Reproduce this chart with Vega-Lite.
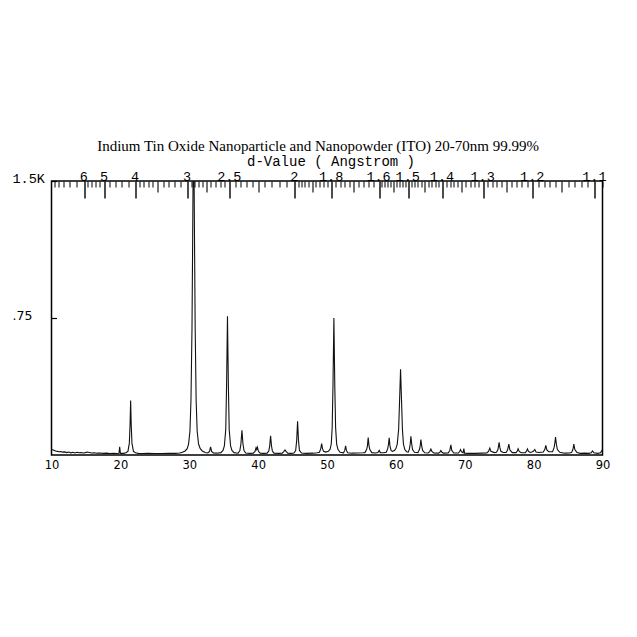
{
  "$schema": "https://vega.github.io/schema/vega-lite/v6.json",
  "width": 551,
  "height": 274,
  "autosize": {"type": "none"},
  "padding": {"left": 51.5, "top": 181, "right": 34.5, "bottom": 182},
  "background": "white",
  "title": {
    "text": "Indium Tin Oxide Nanoparticle and Nanopowder (ITO)  20-70nm  99.99%",
    "font": "Liberation Serif",
    "fontSize": 15,
    "fontWeight": "normal",
    "color": "#000",
    "anchor": "middle",
    "dx": -9,
    "offset": 0
  },
  "config": {
    "view": {"stroke": "#000", "strokeWidth": 1.5},
    "axis": {"labelColor": "#000", "tickColor": "#000", "grid": false}
  },
  "resolve": {"scale": {"x": "independent"}, "axis": {"x": "independent"}},
  "layer": [
    {
      "data": {"values": [
        {"two_theta": 10.0, "intensity": 0.032},
        {"two_theta": 10.15, "intensity": 0.029},
        {"two_theta": 10.35, "intensity": 0.026},
        {"two_theta": 10.6, "intensity": 0.022},
        {"two_theta": 10.85, "intensity": 0.02},
        {"two_theta": 11.1, "intensity": 0.018},
        {"two_theta": 11.35, "intensity": 0.019},
        {"two_theta": 11.6, "intensity": 0.016},
        {"two_theta": 11.9, "intensity": 0.017},
        {"two_theta": 12.2, "intensity": 0.013},
        {"two_theta": 12.5, "intensity": 0.016},
        {"two_theta": 12.8, "intensity": 0.012},
        {"two_theta": 13.1, "intensity": 0.015},
        {"two_theta": 13.4, "intensity": 0.011},
        {"two_theta": 13.7, "intensity": 0.015},
        {"two_theta": 14.0, "intensity": 0.012},
        {"two_theta": 14.3, "intensity": 0.014},
        {"two_theta": 14.6, "intensity": 0.011},
        {"two_theta": 14.9, "intensity": 0.013},
        {"two_theta": 15.2, "intensity": 0.016},
        {"two_theta": 15.5, "intensity": 0.014},
        {"two_theta": 15.8, "intensity": 0.011},
        {"two_theta": 16.2, "intensity": 0.012},
        {"two_theta": 16.6, "intensity": 0.01},
        {"two_theta": 17.0, "intensity": 0.011},
        {"two_theta": 17.5, "intensity": 0.009},
        {"two_theta": 18.0, "intensity": 0.01},
        {"two_theta": 18.5, "intensity": 0.008},
        {"two_theta": 19.0, "intensity": 0.009},
        {"two_theta": 19.5, "intensity": 0.008},
        {"two_theta": 19.8, "intensity": 0.01},
        {"two_theta": 19.9, "intensity": 0.045},
        {"two_theta": 20.0, "intensity": 0.009},
        {"two_theta": 20.5, "intensity": 0.009},
        {"two_theta": 20.8, "intensity": 0.012},
        {"two_theta": 21.1, "intensity": 0.02},
        {"two_theta": 21.3, "intensity": 0.065},
        {"two_theta": 21.4, "intensity": 0.16},
        {"two_theta": 21.49, "intensity": 0.298},
        {"two_theta": 21.58, "intensity": 0.16},
        {"two_theta": 21.68, "intensity": 0.065},
        {"two_theta": 21.9, "intensity": 0.02},
        {"two_theta": 22.2, "intensity": 0.012},
        {"two_theta": 22.6, "intensity": 0.009},
        {"two_theta": 23.2, "intensity": 0.008},
        {"two_theta": 24.0, "intensity": 0.009},
        {"two_theta": 25.0, "intensity": 0.008},
        {"two_theta": 26.0, "intensity": 0.008},
        {"two_theta": 27.0, "intensity": 0.009},
        {"two_theta": 28.0, "intensity": 0.009},
        {"two_theta": 28.6, "intensity": 0.011},
        {"two_theta": 29.0, "intensity": 0.015},
        {"two_theta": 29.4, "intensity": 0.022},
        {"two_theta": 29.7, "intensity": 0.035},
        {"two_theta": 29.9, "intensity": 0.06},
        {"two_theta": 30.1, "intensity": 0.13},
        {"two_theta": 30.25, "intensity": 0.3},
        {"two_theta": 30.4, "intensity": 0.7},
        {"two_theta": 30.5, "intensity": 1.2},
        {"two_theta": 30.58, "intensity": 1.65},
        {"two_theta": 30.68, "intensity": 1.65},
        {"two_theta": 30.76, "intensity": 1.2},
        {"two_theta": 30.86, "intensity": 0.7},
        {"two_theta": 31.0, "intensity": 0.3},
        {"two_theta": 31.15, "intensity": 0.13},
        {"two_theta": 31.35, "intensity": 0.06},
        {"two_theta": 31.6, "intensity": 0.035},
        {"two_theta": 31.9, "intensity": 0.022},
        {"two_theta": 32.3, "intensity": 0.014},
        {"two_theta": 32.7, "intensity": 0.011},
        {"two_theta": 32.95, "intensity": 0.02},
        {"two_theta": 33.1, "intensity": 0.045},
        {"two_theta": 33.25, "intensity": 0.02},
        {"two_theta": 33.5, "intensity": 0.011},
        {"two_theta": 34.0, "intensity": 0.01},
        {"two_theta": 34.6, "intensity": 0.013},
        {"two_theta": 34.9, "intensity": 0.025},
        {"two_theta": 35.1, "intensity": 0.05},
        {"two_theta": 35.3, "intensity": 0.14},
        {"two_theta": 35.42, "intensity": 0.38},
        {"two_theta": 35.55, "intensity": 0.76},
        {"two_theta": 35.68, "intensity": 0.38},
        {"two_theta": 35.8, "intensity": 0.14},
        {"two_theta": 36.0, "intensity": 0.05},
        {"two_theta": 36.2, "intensity": 0.025},
        {"two_theta": 36.5, "intensity": 0.013},
        {"two_theta": 37.1, "intensity": 0.01},
        {"two_theta": 37.35, "intensity": 0.025},
        {"two_theta": 37.5, "intensity": 0.06},
        {"two_theta": 37.65, "intensity": 0.135},
        {"two_theta": 37.8, "intensity": 0.06},
        {"two_theta": 37.95, "intensity": 0.025},
        {"two_theta": 38.2, "intensity": 0.011},
        {"two_theta": 38.8, "intensity": 0.009},
        {"two_theta": 39.3, "intensity": 0.01},
        {"two_theta": 39.55, "intensity": 0.02},
        {"two_theta": 39.7, "intensity": 0.04},
        {"two_theta": 39.8, "intensity": 0.03},
        {"two_theta": 39.9, "intensity": 0.042},
        {"two_theta": 40.05, "intensity": 0.02},
        {"two_theta": 40.3, "intensity": 0.01},
        {"two_theta": 40.8, "intensity": 0.009},
        {"two_theta": 41.3, "intensity": 0.01},
        {"two_theta": 41.55, "intensity": 0.022},
        {"two_theta": 41.68, "intensity": 0.05},
        {"two_theta": 41.81, "intensity": 0.105},
        {"two_theta": 41.94, "intensity": 0.05},
        {"two_theta": 42.07, "intensity": 0.022},
        {"two_theta": 42.3, "intensity": 0.01},
        {"two_theta": 43.0, "intensity": 0.009},
        {"two_theta": 43.5, "intensity": 0.01},
        {"two_theta": 43.75, "intensity": 0.02},
        {"two_theta": 43.9, "intensity": 0.028},
        {"two_theta": 44.05, "intensity": 0.02},
        {"two_theta": 44.3, "intensity": 0.01},
        {"two_theta": 44.8, "intensity": 0.009},
        {"two_theta": 45.2, "intensity": 0.011},
        {"two_theta": 45.45, "intensity": 0.025},
        {"two_theta": 45.6, "intensity": 0.08},
        {"two_theta": 45.73, "intensity": 0.185},
        {"two_theta": 45.86, "intensity": 0.08},
        {"two_theta": 46.0, "intensity": 0.025},
        {"two_theta": 46.3, "intensity": 0.011},
        {"two_theta": 47.0, "intensity": 0.009},
        {"two_theta": 48.0, "intensity": 0.01},
        {"two_theta": 48.6, "intensity": 0.012},
        {"two_theta": 48.9, "intensity": 0.015},
        {"two_theta": 49.1, "intensity": 0.035},
        {"two_theta": 49.22, "intensity": 0.062},
        {"two_theta": 49.35, "intensity": 0.035},
        {"two_theta": 49.5, "intensity": 0.02},
        {"two_theta": 49.8, "intensity": 0.016},
        {"two_theta": 50.2, "intensity": 0.02},
        {"two_theta": 50.45, "intensity": 0.032},
        {"two_theta": 50.62, "intensity": 0.06},
        {"two_theta": 50.75, "intensity": 0.15},
        {"two_theta": 50.87, "intensity": 0.38},
        {"two_theta": 51.0, "intensity": 0.75},
        {"two_theta": 51.13, "intensity": 0.38},
        {"two_theta": 51.25, "intensity": 0.15},
        {"two_theta": 51.4, "intensity": 0.06},
        {"two_theta": 51.6, "intensity": 0.03},
        {"two_theta": 51.9, "intensity": 0.015},
        {"two_theta": 52.4, "intensity": 0.012},
        {"two_theta": 52.58, "intensity": 0.025},
        {"two_theta": 52.7, "intensity": 0.05},
        {"two_theta": 52.82, "intensity": 0.025},
        {"two_theta": 53.0, "intensity": 0.012},
        {"two_theta": 53.6, "intensity": 0.01},
        {"two_theta": 54.4, "intensity": 0.011},
        {"two_theta": 55.2, "intensity": 0.012},
        {"two_theta": 55.5, "intensity": 0.013},
        {"two_theta": 55.75, "intensity": 0.03},
        {"two_theta": 55.87, "intensity": 0.05},
        {"two_theta": 55.98, "intensity": 0.095},
        {"two_theta": 56.1, "intensity": 0.05},
        {"two_theta": 56.22, "intensity": 0.03},
        {"two_theta": 56.5, "intensity": 0.013},
        {"two_theta": 57.0, "intensity": 0.011},
        {"two_theta": 57.4, "intensity": 0.014},
        {"two_theta": 57.58, "intensity": 0.025},
        {"two_theta": 57.75, "intensity": 0.013},
        {"two_theta": 58.2, "intensity": 0.012},
        {"two_theta": 58.6, "intensity": 0.015},
        {"two_theta": 58.82, "intensity": 0.035},
        {"two_theta": 58.93, "intensity": 0.06},
        {"two_theta": 59.03, "intensity": 0.094},
        {"two_theta": 59.14, "intensity": 0.05},
        {"two_theta": 59.3, "intensity": 0.025},
        {"two_theta": 59.5, "intensity": 0.02},
        {"two_theta": 59.8, "intensity": 0.025},
        {"two_theta": 60.0, "intensity": 0.035},
        {"two_theta": 60.2, "intensity": 0.06},
        {"two_theta": 60.4, "intensity": 0.14},
        {"two_theta": 60.54, "intensity": 0.3},
        {"two_theta": 60.68, "intensity": 0.47},
        {"two_theta": 60.82, "intensity": 0.3},
        {"two_theta": 60.95, "intensity": 0.14},
        {"two_theta": 61.1, "intensity": 0.06},
        {"two_theta": 61.3, "intensity": 0.03},
        {"two_theta": 61.55, "intensity": 0.018},
        {"two_theta": 61.8, "intensity": 0.016},
        {"two_theta": 61.98, "intensity": 0.035},
        {"two_theta": 62.08, "intensity": 0.06},
        {"two_theta": 62.18, "intensity": 0.102},
        {"two_theta": 62.3, "intensity": 0.06},
        {"two_theta": 62.42, "intensity": 0.03},
        {"two_theta": 62.7, "intensity": 0.015},
        {"two_theta": 63.2, "intensity": 0.013},
        {"two_theta": 63.42, "intensity": 0.03},
        {"two_theta": 63.53, "intensity": 0.05},
        {"two_theta": 63.63, "intensity": 0.085},
        {"two_theta": 63.75, "intensity": 0.05},
        {"two_theta": 63.88, "intensity": 0.025},
        {"two_theta": 64.2, "intensity": 0.012},
        {"two_theta": 64.7, "intensity": 0.011},
        {"two_theta": 64.93, "intensity": 0.02},
        {"two_theta": 65.08, "intensity": 0.032},
        {"two_theta": 65.23, "intensity": 0.02},
        {"two_theta": 65.5, "intensity": 0.011},
        {"two_theta": 66.2, "intensity": 0.01},
        {"two_theta": 66.4, "intensity": 0.016},
        {"two_theta": 66.53, "intensity": 0.024},
        {"two_theta": 66.66, "intensity": 0.016},
        {"two_theta": 66.9, "intensity": 0.01},
        {"two_theta": 67.6, "intensity": 0.011},
        {"two_theta": 67.83, "intensity": 0.025},
        {"two_theta": 67.98, "intensity": 0.055},
        {"two_theta": 68.12, "intensity": 0.025},
        {"two_theta": 68.4, "intensity": 0.011},
        {"two_theta": 69.1, "intensity": 0.011},
        {"two_theta": 69.27, "intensity": 0.02},
        {"two_theta": 69.39, "intensity": 0.03},
        {"two_theta": 69.52, "intensity": 0.018},
        {"two_theta": 69.75, "intensity": 0.012},
        {"two_theta": 69.87, "intensity": 0.035},
        {"two_theta": 69.97, "intensity": 0.01},
        {"two_theta": 70.5, "intensity": 0.009},
        {"two_theta": 71.5, "intensity": 0.009},
        {"two_theta": 72.5, "intensity": 0.01},
        {"two_theta": 73.2, "intensity": 0.011},
        {"two_theta": 73.45, "intensity": 0.02},
        {"two_theta": 73.64, "intensity": 0.038},
        {"two_theta": 73.8, "intensity": 0.02},
        {"two_theta": 74.3, "intensity": 0.013},
        {"two_theta": 74.6, "intensity": 0.015},
        {"two_theta": 74.82, "intensity": 0.03},
        {"two_theta": 74.91, "intensity": 0.05},
        {"two_theta": 74.99, "intensity": 0.07},
        {"two_theta": 75.1, "intensity": 0.04},
        {"two_theta": 75.25, "intensity": 0.02},
        {"two_theta": 75.6, "intensity": 0.014},
        {"two_theta": 76.0, "intensity": 0.014},
        {"two_theta": 76.22, "intensity": 0.028},
        {"two_theta": 76.4, "intensity": 0.06},
        {"two_theta": 76.55, "intensity": 0.028},
        {"two_theta": 76.9, "intensity": 0.013},
        {"two_theta": 77.45, "intensity": 0.013},
        {"two_theta": 77.62, "intensity": 0.022},
        {"two_theta": 77.75, "intensity": 0.034},
        {"two_theta": 77.9, "intensity": 0.02},
        {"two_theta": 78.2, "intensity": 0.012},
        {"two_theta": 78.8, "intensity": 0.013},
        {"two_theta": 78.97, "intensity": 0.022},
        {"two_theta": 79.11, "intensity": 0.033},
        {"two_theta": 79.25, "intensity": 0.02},
        {"two_theta": 79.5, "intensity": 0.014},
        {"two_theta": 79.75, "intensity": 0.016},
        {"two_theta": 80.0, "intensity": 0.022},
        {"two_theta": 80.17, "intensity": 0.03},
        {"two_theta": 80.35, "intensity": 0.016},
        {"two_theta": 80.8, "intensity": 0.014},
        {"two_theta": 81.4, "intensity": 0.016},
        {"two_theta": 81.62, "intensity": 0.03},
        {"two_theta": 81.77, "intensity": 0.052},
        {"two_theta": 81.92, "intensity": 0.028},
        {"two_theta": 82.2, "intensity": 0.018},
        {"two_theta": 82.75, "intensity": 0.018},
        {"two_theta": 82.97, "intensity": 0.04},
        {"two_theta": 83.08, "intensity": 0.065},
        {"two_theta": 83.18, "intensity": 0.098},
        {"two_theta": 83.3, "intensity": 0.06},
        {"two_theta": 83.45, "intensity": 0.03},
        {"two_theta": 83.8, "intensity": 0.015},
        {"two_theta": 84.5, "intensity": 0.01},
        {"two_theta": 85.2, "intensity": 0.011},
        {"two_theta": 85.5, "intensity": 0.013},
        {"two_theta": 85.7, "intensity": 0.03},
        {"two_theta": 85.84, "intensity": 0.06},
        {"two_theta": 85.98, "intensity": 0.03},
        {"two_theta": 86.3, "intensity": 0.013},
        {"two_theta": 86.8, "intensity": 0.009},
        {"two_theta": 87.4, "intensity": 0.01},
        {"two_theta": 88.0, "intensity": 0.009},
        {"two_theta": 88.35, "intensity": 0.012},
        {"two_theta": 88.55, "intensity": 0.022},
        {"two_theta": 88.75, "intensity": 0.012},
        {"two_theta": 89.3, "intensity": 0.009},
        {"two_theta": 89.7, "intensity": 0.012},
        {"two_theta": 90.0, "intensity": 0.03}
      ]},
      "mark": {"type": "line", "clip": true, "color": "#111", "strokeWidth": 1.1},
      "encoding": {
        "x": {
          "field": "two_theta", "type": "quantitative",
          "scale": {"domain": [10, 90], "nice": false, "zero": false},
          "axis": {
            "orient": "bottom", "values": [10, 20, 30, 40, 50, 60, 70, 80, 90],
            "ticks": false, "domain": false, "grid": false, "title": null,
            "labelFlush": false, "labelFont": "DejaVu Sans", "labelFontSize": 11.5,
            "labelPadding": 4.5, "labelColor": "#000"
          }
        },
        "y": {
          "field": "intensity", "type": "quantitative",
          "scale": {"domain": [0, 1.5], "nice": false, "zero": true},
          "axis": {
            "orient": "left", "values": [0.75, 1.5], "title": null,
            "domain": false, "grid": false, "ticks": true, "tickSize": -5, "tickWidth": 1.2,
            "labelExpr": "datum.value > 1 ? '1.5K' : '.75'",
            "labelAlign": "left", "labelBaseline": "middle", "labelPadding": 44.5, "labelOffset": -3,
            "labelFont": {"condition": {"test": "datum.value > 1", "value": "Liberation Mono"}, "value": "DejaVu Sans"},
            "labelFontSize": {"condition": {"test": "datum.value > 1", "value": 13.5}, "value": 12.5},
            "labelColor": "#000"
          }
        }
      }
    },
    {
      "data": {"values": [{}]},
      "mark": {"type": "rule", "opacity": 0},
      "encoding": {
        "x": {
          "datum": 10, "type": "quantitative",
          "scale": {"domain": [10, 90], "nice": false, "zero": false},
          "axis": {
            "orient": "top",
            "values": [14.75, 17.72, 22.21, 29.76, 35.89, 45.31, 50.67, 57.56, 61.8, 66.76, 72.67, 79.87, 88.9],
            "labelExpr": "datum.value < 16 ? '6' : datum.value < 20 ? '5' : datum.value < 25 ? '4' : datum.value < 32 ? '3' : datum.value < 40 ? '2.5' : datum.value < 48 ? '2' : datum.value < 54 ? '1.8' : datum.value < 60 ? '1.6' : datum.value < 64 ? '1.5' : datum.value < 70 ? '1.4' : datum.value < 76 ? '1.3' : datum.value < 84 ? '1.2' : '1.1'",
            "ticks": false, "domain": false, "grid": false,
            "labelFont": "Liberation Mono", "labelFontSize": 13.5, "labelBaseline": "alphabetic",
            "labelPadding": 1, "labelOffset": -1, "labelFlush": false, "labelOverlap": false, "labelBound": false,
            "labelColor": "#000",
            "title": "d-Value ( Angstrom )",
            "titleFont": "Liberation Mono", "titleFontSize": 14, "titleFontWeight": "normal", "titleColor": "#000",
            "titleX": 279, "titleY": -16, "titleBaseline": "alphabetic", "titleAlign": "center"
          }
        }
      }
    },
    {
      "data": {"values": [{}]},
      "mark": {"type": "rule", "opacity": 0},
      "encoding": {
        "x": {
          "datum": 10, "type": "quantitative",
          "scale": {"domain": [10, 90], "nice": false, "zero": false},
          "axis": {
            "orient": "top",
            "values": [14.75, 17.72, 22.21, 29.76, 35.89, 45.31, 50.67, 57.56, 61.8, 66.76, 72.67, 79.87, 88.9],
            "labels": false, "domain": false, "grid": false, "title": null,
            "ticks": true, "tickSize": -17, "tickWidth": 1.4, "tickColor": "#000"
          }
        }
      }
    },
    {
      "data": {"values": [{}]},
      "mark": {"type": "rule", "opacity": 0},
      "encoding": {
        "x": {
          "datum": 10, "type": "quantitative",
          "scale": {"domain": [10, 90], "nice": false, "zero": false},
          "axis": {
            "orient": "top",
            "values": [25.43, 32.53, 40.04, 47.84, 53.89, 59.6, 64.18, 69.58, 76.08, 84.11],
            "labels": false, "domain": false, "grid": false, "title": null,
            "ticks": true, "tickSize": -11, "tickWidth": 1.1, "tickColor": "#000"
          }
        }
      }
    },
    {
      "data": {"values": [{}]},
      "mark": {"type": "rule", "opacity": 0},
      "encoding": {
        "x": {
          "datum": 10, "type": "quantitative",
          "scale": {"domain": [10, 90], "nice": false, "zero": false},
          "axis": {
            "orient": "top",
            "values": [10.4, 11.05, 11.79, 12.64, 13.61, 15.26, 15.81, 16.4, 17.04, 18.47, 19.28, 20.17, 21.14, 22.78, 23.39, 24.03, 24.71, 26.19, 27.0, 27.86, 28.78, 30.27, 30.82, 31.36, 31.94, 33.15, 33.8, 34.47, 35.17, 36.65, 37.44, 38.27, 39.13, 40.99, 41.99, 43.04, 44.14, 45.79, 46.28, 46.79, 47.31, 48.38, 48.93, 49.5, 50.08, 51.28, 51.91, 52.55, 53.21, 54.58, 55.3, 56.03, 56.78, 57.95, 58.36, 58.77, 59.18, 60.03, 60.46, 60.9, 61.35, 62.26, 62.73, 63.2, 63.69, 64.68, 65.19, 65.7, 66.23, 67.31, 67.86, 68.42, 69.0, 70.18, 70.78, 71.4, 72.03, 73.33, 74.0, 74.68, 75.37, 76.81, 77.55, 78.31, 79.08, 80.68, 81.51, 82.35, 83.22, 85.02, 85.95, 86.91, 87.89, 89.93],
            "labels": false, "domain": false, "grid": false, "title": null,
            "ticks": true, "tickSize": -6, "tickWidth": 1, "tickColor": "#000"
          }
        }
      }
    }
  ]
}
